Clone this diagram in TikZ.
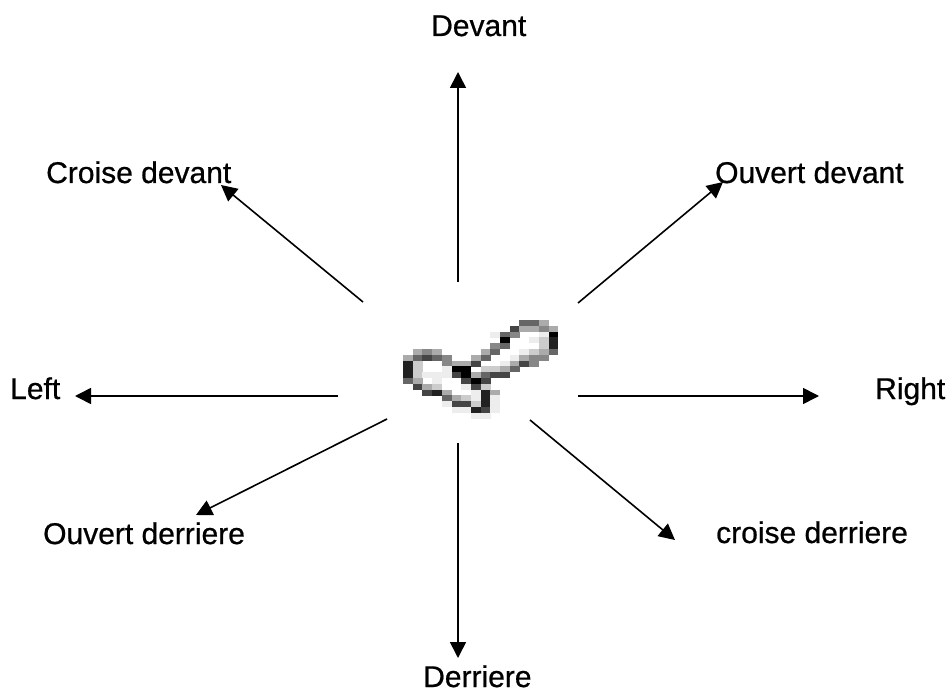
\documentclass[tikz,border=0pt]{standalone}
\usepackage{fontspec}
\setmainfont{Liberation Sans}
\newfontfamily\lblfont{Liberation Sans}[FakeBold=0.7]
\usetikzlibrary{arrows.meta}
\begin{document}
\begin{tikzpicture}[x=1pt,y=-1pt,
  lbl/.style={inner sep=0pt,anchor=base west,font=\lblfont\fontsize{30}{36}\selectfont},
  dirarrow/.style={line width=1.6pt,-{Triangle[length=16pt,width=16pt]}}]
\useasboundingbox (0,0) rectangle (949,692);
\fill[white] (0,0) rectangle (949,692);
% pixelated feet picture
\foreach \c/\r/\k in {
 12/0/60,13/0/60,14/0/33,
 11/1/73,12/1/33,13/1/33,14/1/47,15/1/33,
 9/2/7,10/2/60,11/2/47,14/2/7,15/2/100,
 10/3/100,13/3/7,14/3/20,15/3/87,
 9/4/47,10/4/60,14/4/20,15/4/87,
 1/5/33,2/5/47,3/5/33,8/5/33,9/5/60,12/5/7,13/5/20,14/5/33,15/5/60,
 0/6/33,1/6/60,2/6/73,3/6/60,4/6/47,7/6/33,8/6/60,11/6/7,12/6/33,13/6/47,14/6/47,
 0/7/87,1/7/20,4/7/47,5/7/33,6/7/33,7/7/73,10/7/7,11/7/33,12/7/73,13/7/47,
 0/8/87,1/8/20,4/8/7,5/8/100,6/8/100,8/8/20,9/8/20,10/8/33,11/8/60,
 0/9/87,1/9/20,2/9/7,3/9/7,4/9/7,5/9/73,6/9/100,7/9/33,8/9/60,9/9/73,10/9/73,
 0/10/60,1/10/33,3/10/7,6/10/73,7/10/100,8/10/73,
 1/11/73,2/11/33,3/11/20,6/11/7,7/11/73,8/11/20,
 2/12/73,3/12/87,4/12/33,7/12/7,8/12/87,9/12/33,
 4/13/60,5/13/33,6/13/20,7/13/7,8/13/87,9/13/7,
 4/14/7,5/14/73,6/14/73,7/14/20,8/14/87,9/14/7,
 5/15/7,6/15/7,7/15/87,8/15/73,9/15/7,
 7/16/7,8/16/7}
 \fill[black!\k] ({403+9.7*\c},{320+5.8*\r}) rectangle ++(9.9,6);
% labels
\node[lbl] (devant) at (431,36) {Devant};
\node[lbl] (croisedevant) at (46,183) {Croise devant};
\node[lbl] (ouvertdevant) at (715,183) {Ouvert devant};
\node[lbl] (left) at (10,399) {Left};
\node[lbl] (right) at (875,399) {Right};
\node[lbl] (ouvertderriere) at (43,544) {Ouvert derriere};
\node[lbl] (croisederriere) at (716,543) {croise derriere};
\node[lbl] (derriere) at (423,687) {Derriere};
% arrow end points
\coordinate (sN) at (458,282);  \coordinate (tN) at (458,72);
\coordinate (sNW) at (363,302); \coordinate (tNW) at (221,185);
\coordinate (sNE) at (578,303); \coordinate (tNE) at (723,182);
\coordinate (sW) at (338,396);  \coordinate (tW) at (75,396);
\coordinate (sE) at (578,396);  \coordinate (tE) at (819,396);
\coordinate (sSW) at (387,419); \coordinate (tSW) at (196,515);
\coordinate (sS) at (458,443);  \coordinate (tS) at (458,658);
\coordinate (sSE) at (530,420); \coordinate (tSE) at (675,540);
\foreach \d in {N,NW,NE,W,E,SW,S,SE}
  \draw[dirarrow] (s\d) -- (t\d);
\end{tikzpicture}
\end{document}
